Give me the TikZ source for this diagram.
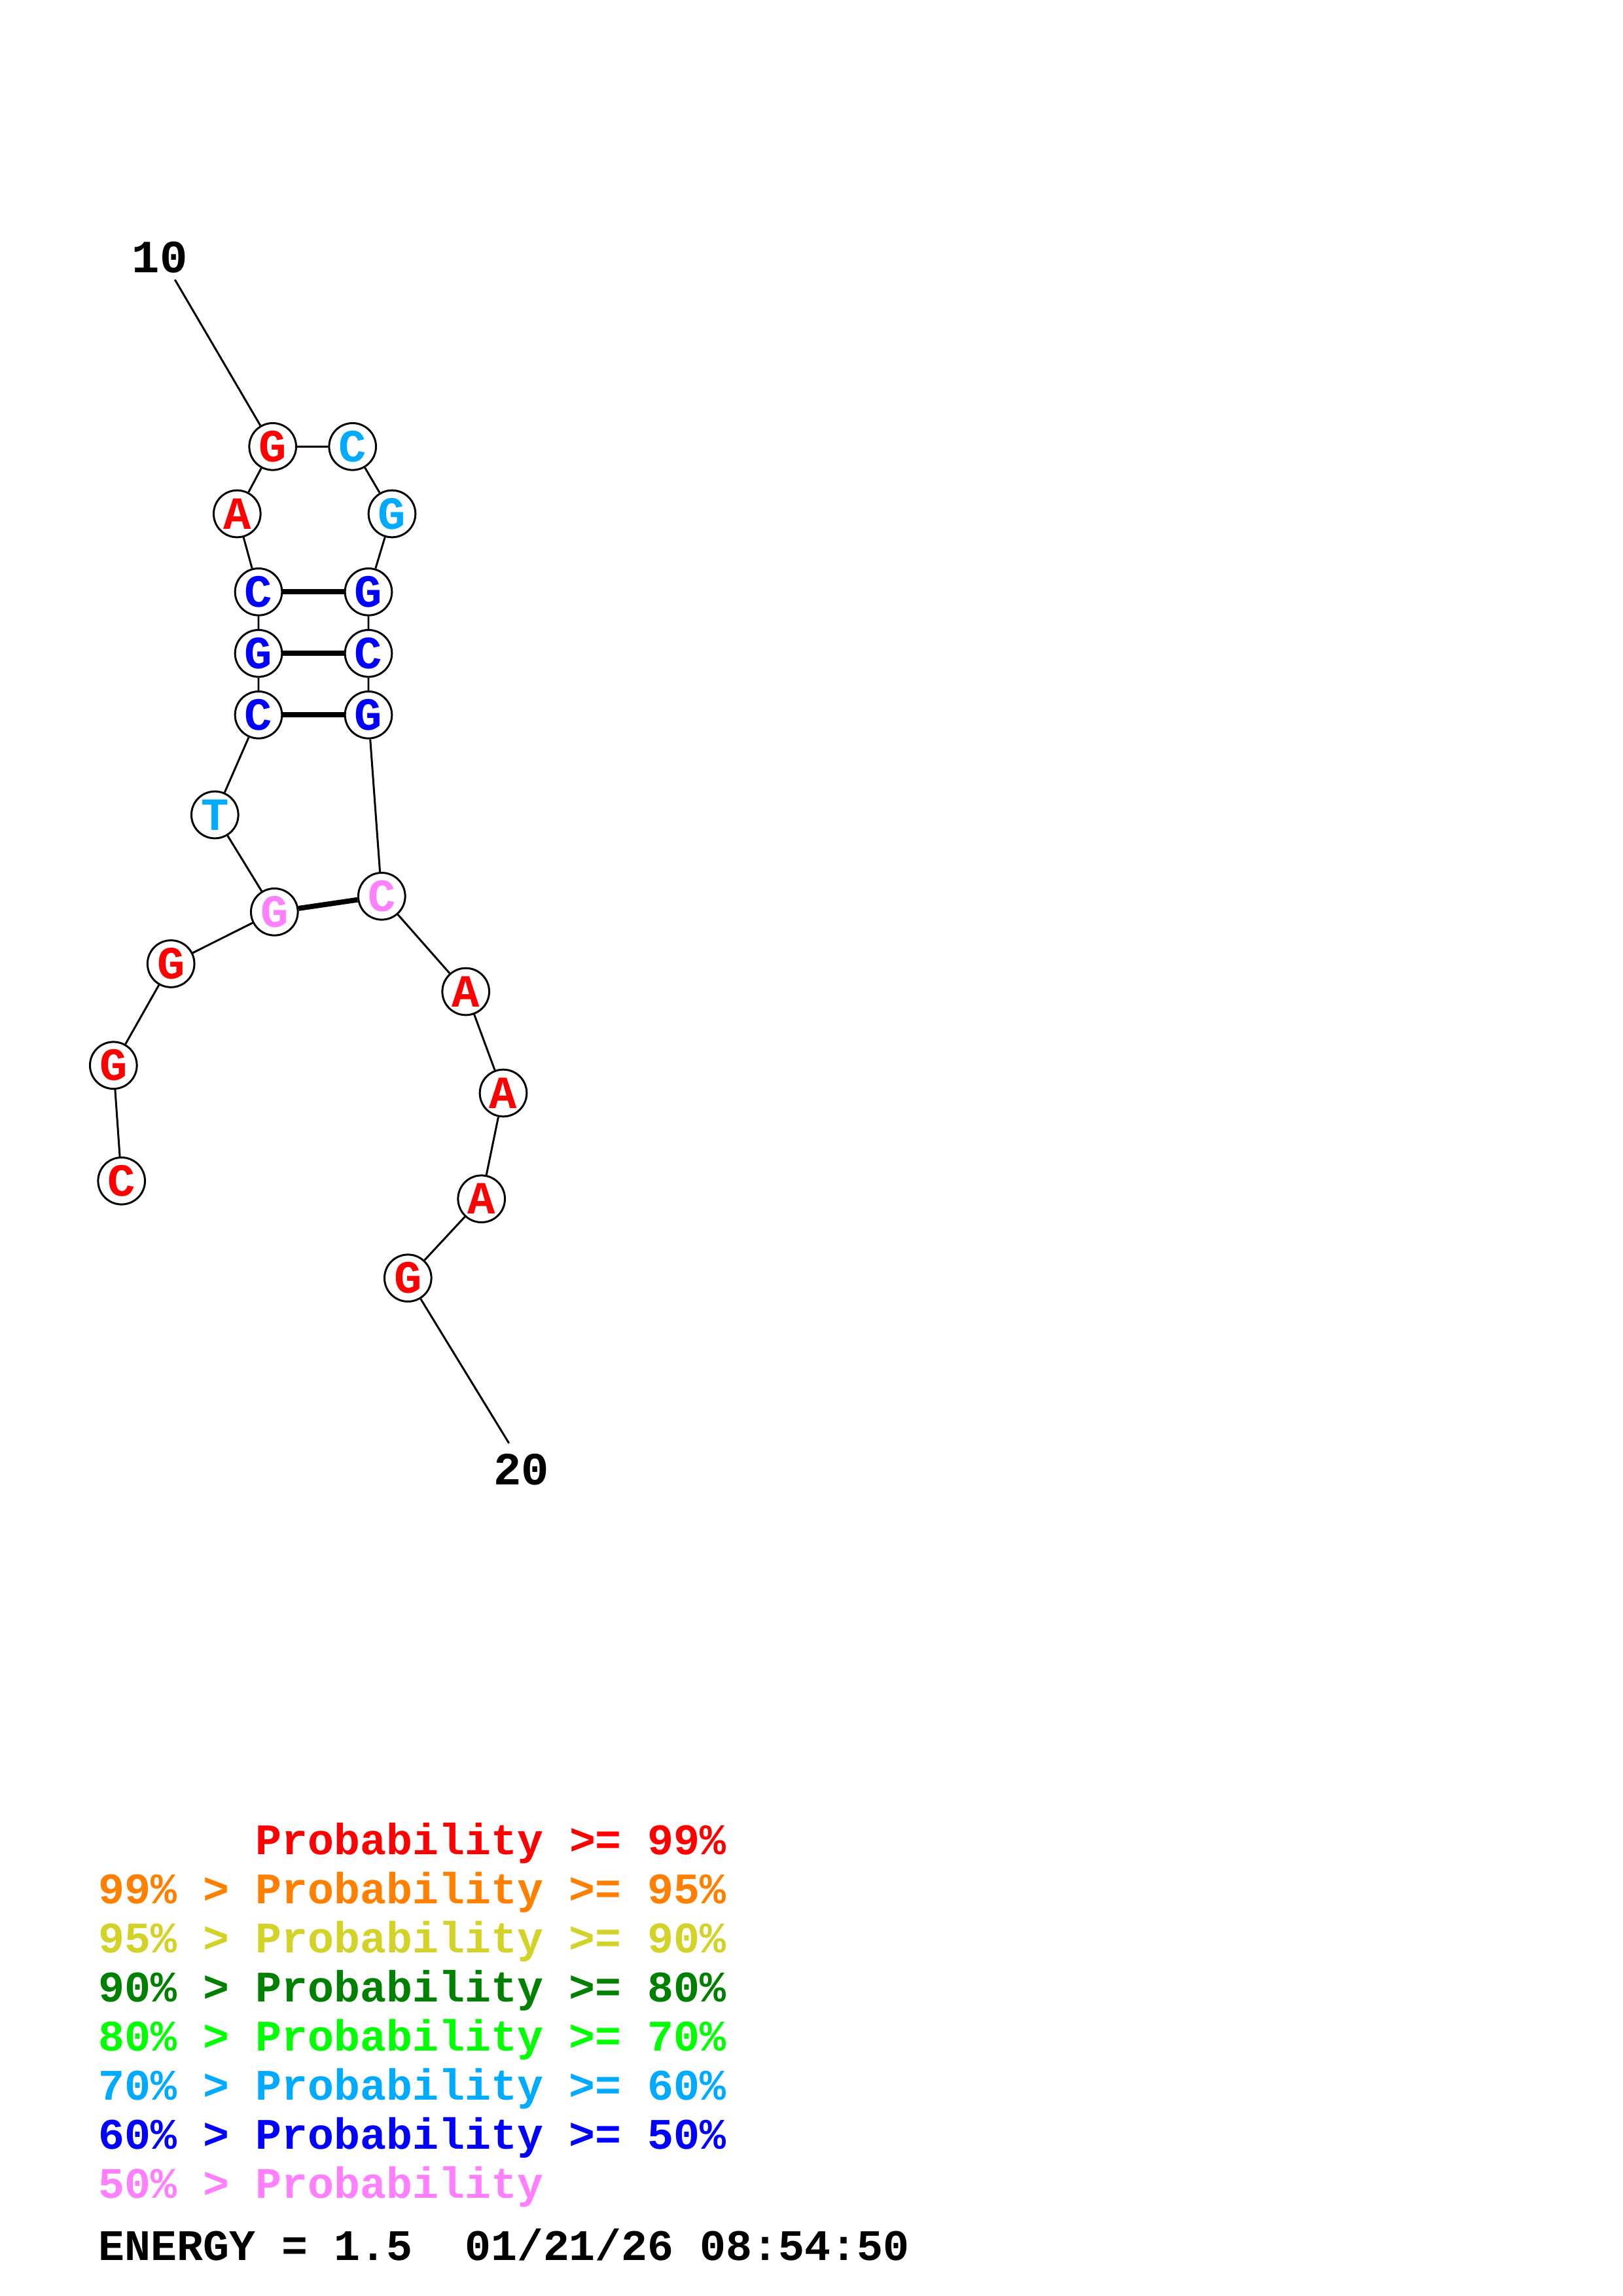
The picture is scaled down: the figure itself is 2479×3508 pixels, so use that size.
\documentclass[tikz,border=0pt]{standalone}
\usepackage{fontspec}
\setmonofont{Liberation Mono}
\usetikzlibrary{calc}

\definecolor{pr99}{RGB}{255,0,0}
\definecolor{pr95}{RGB}{255,128,0}
\definecolor{pr90}{RGB}{210,210,40}
\definecolor{pr80}{RGB}{0,128,0}
\definecolor{pr70}{RGB}{0,255,0}
\definecolor{pr60}{RGB}{0,170,255}
\definecolor{pr50}{RGB}{0,0,255}
\definecolor{prlow}{RGB}{255,128,255}

\tikzset{
  base/.style={circle, draw, line width=0.72pt, fill=white, minimum size=6.07mm,
    inner sep=0pt, font=\ttfamily\bfseries\fontsize{17}{17}\selectfont},
  bb/.style={line width=0.72pt},
  bp/.style={line width=1.9pt},
  num/.style={inner sep=0pt, anchor=base, font=\ttfamily\bfseries\fontsize{17}{17}\selectfont},
  leg/.style={inner sep=0pt, anchor=base west, font=\ttfamily\bfseries\fontsize{16.05}{16}\selectfont}
}

\begin{document}
\begin{tikzpicture}[x=0.084712mm, y=-0.084712mm]
            \useasboundingbox(0,0)rectangle(2479,3508);

            % 塩基
            \node[base, text=pr99](n1)at(185.7,1804.3){C};
            \node[base, text=pr99](n2)at(173.3,1627.7){G};
            \node[base, text=pr99](n3)at(261.2,1472.5){G};
            \node[base, text=prlow](n4)at(419.3,1393.3){G};
            \node[base, text=pr60](n5)at(328.3,1245){T};
            \node[base, text=pr50](n6)at(395,1092.3){C};
            \node[base, text=pr50](n7)at(395,998.3){G};
            \node[base, text=pr50](n8)at(395,904.3){C};
            \node[base, text=pr99](n9)at(362.3,785){A};
            \node[base, text=pr99](n10)at(416.7,682.3){G};
            \node[base, text=pr60](n11)at(538.7,682.3){C};
            \node[base, text=pr60](n12)at(599,785){G};
            \node[base, text=pr50](n13)at(563,904.3){G};
            \node[base, text=pr50](n14)at(563,998.3){C};
            \node[base, text=pr50](n15)at(563,1092.3){G};
            \node[base, text=prlow](n16)at(583.3,1369.3){C};
            \node[base, text=pr99](n17)at(711.7,1515){A};
            \node[base, text=pr99](n18)at(769,1670){A};
            \node[base, text=pr99](n19)at(735.7,1831.7){A};
            \node[base, text=pr99](n20)at(623.3,1952.7){G};

            % 骨格
            \path[draw, bb](n1)--(n2)--(n3)--(n4)--(n5)--(n6)--(n7)--(n8)--(n9)--(n10)
              --(n11)--(n12)--(n13)--(n14)--(n15)--(n16)--(n17)--(n18)--(n19)--(n20);

            % 塩基対
            \path[draw, bp](n8)to(n13);
            \path[draw, bp](n7)to(n14);
            \path[draw, bp](n6)to(n15);
            \path[draw, bp](n4)to(n16);

            % 番号
            \node[num](l10)at(244.3,416){10};
            \coordinate(t10)at(267.3,427.3);
            \path[draw, bb](t10)to(n10);
            \node[num](l20)at(796.5,2268){20};
            \coordinate(t20)at(777.7,2205);
            \path[draw, bb](n20)to(t20);

            % 凡例
            \node[leg, text=pr99](g1)at(150,2833){\phantom{99\% > }Probability >= 99\%};
            \node[leg, text=pr95](g2)at(150,2908){99\% > Probability >= 95\%};
            \node[leg, text=pr90](g3)at(150,2983){95\% > Probability >= 90\%};
            \node[leg, text=pr80](g4)at(150,3058){90\% > Probability >= 80\%};
            \node[leg, text=pr70](g5)at(150,3133){80\% > Probability >= 70\%};
            \node[leg, text=pr60](g6)at(150,3208){70\% > Probability >= 60\%};
            \node[leg, text=pr50](g7)at(150,3283){60\% > Probability >= 50\%};
            \node[leg, text=prlow](g8)at(150,3358){50\% > Probability};
            \node[leg](en)at(150,3453){ENERGY = 1.5\ \ 01/21/26 08:54:50};
        \end{tikzpicture}
\end{document}
